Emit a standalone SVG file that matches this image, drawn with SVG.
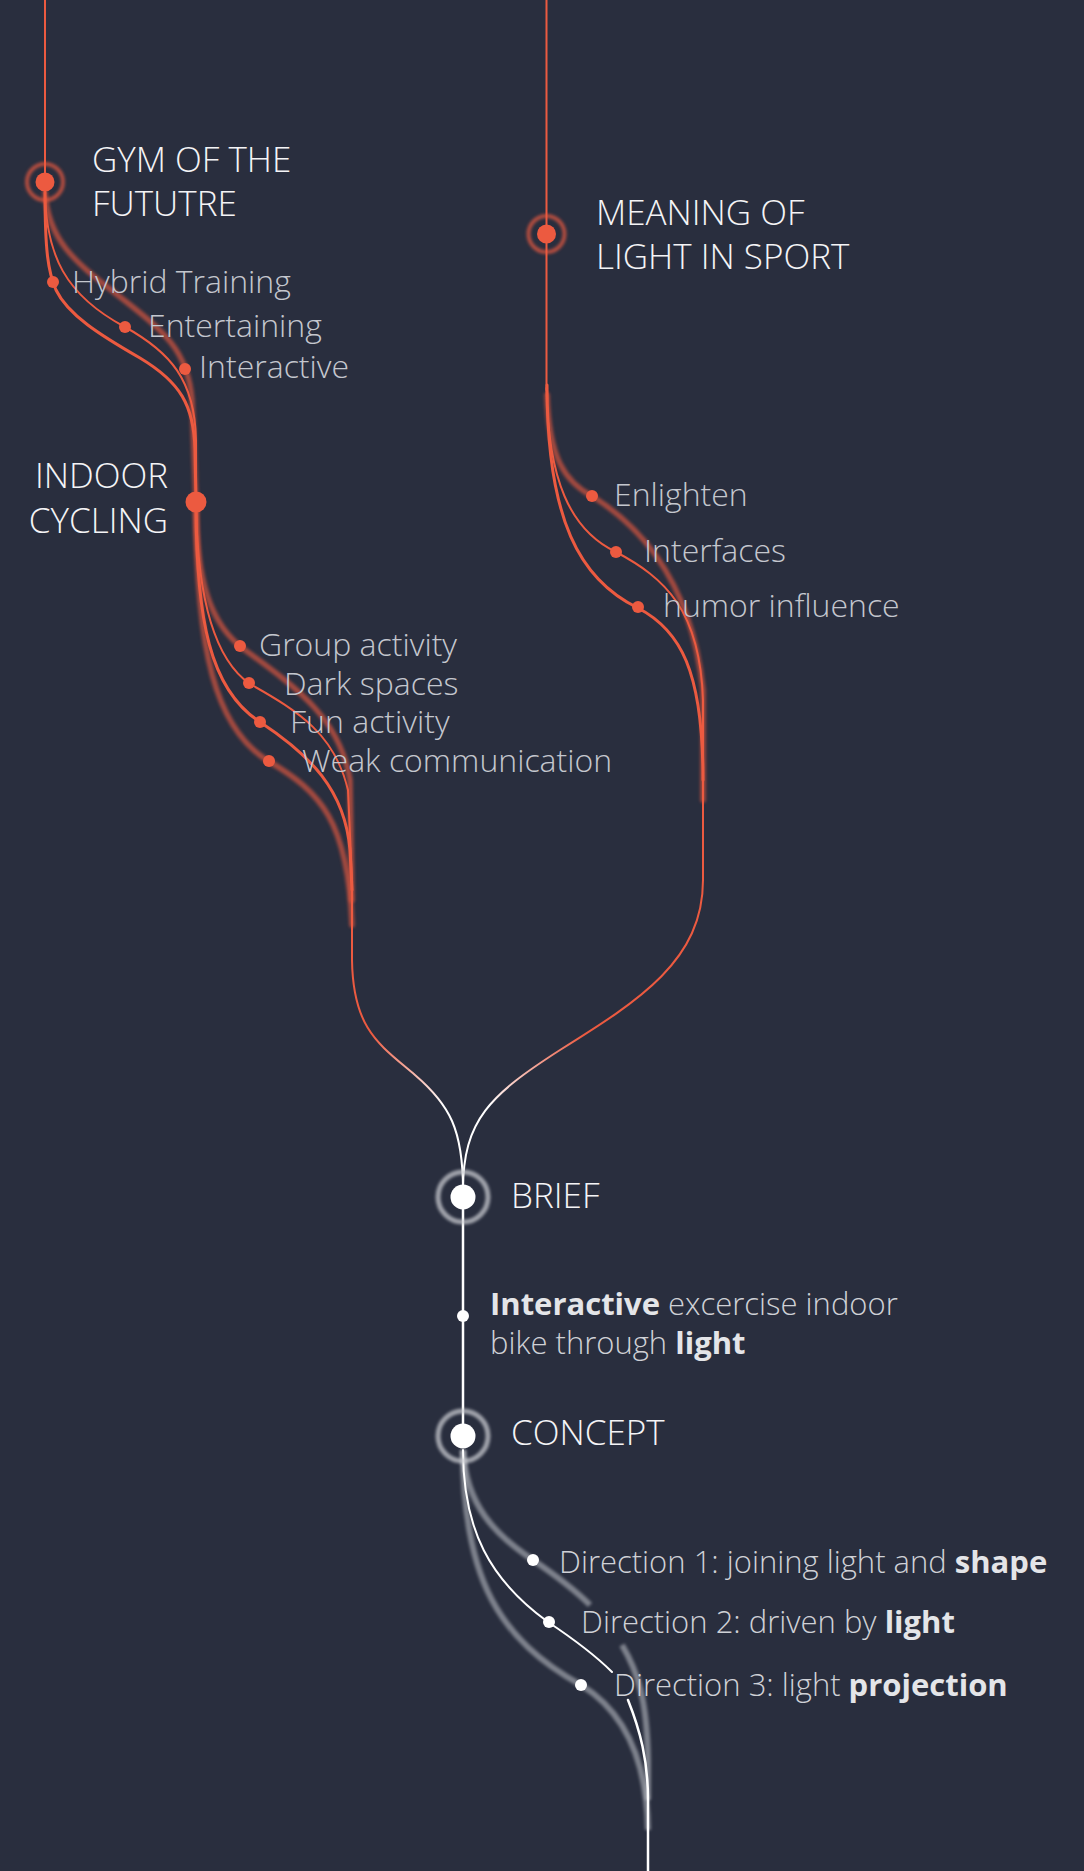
<svg xmlns="http://www.w3.org/2000/svg" width="1084" height="1871" viewBox="0 0 1084 1871">
<defs>
<style>
.o{fill:none;stroke:#ec5a40;stroke-linecap:round}
.thin{stroke-width:2}
.med{stroke-width:3}
.glow{stroke-width:5.5;opacity:0.62}
.w{fill:none;stroke:#ffffff;stroke-linecap:round}
.g{fill:none;stroke:#c3c6cc;stroke-width:6;opacity:0.55;stroke-linecap:butt}
.od{fill:#ec5a40}
.wd{fill:#ffffff}
.head{font-family:"Open Sans","Liberation Sans",sans-serif;font-size:35px;font-weight:300;fill:#f4f4f6}
.sub{font-family:"Open Sans","Liberation Sans",sans-serif;font-size:32px;font-weight:300;fill:#c4c7ce}
.desc{font-family:"Open Sans","Liberation Sans",sans-serif;font-size:31px;font-weight:300;fill:#cfd1d6}
.b{font-weight:700;fill:#e4e5e8}
</style>
<filter id="blur" filterUnits="userSpaceOnUse" x="0" y="0" width="1084" height="1871"><feGaussianBlur stdDeviation="1.6"/></filter>
<filter id="soft" filterUnits="userSpaceOnUse" x="0" y="0" width="1084" height="1871"><feGaussianBlur stdDeviation="0.5"/></filter>
<linearGradient id="toWhite" gradientUnits="userSpaceOnUse" x1="0" y1="1035" x2="0" y2="1105">
<stop offset="0" stop-color="#ec5a40"/><stop offset="1" stop-color="#ffffff"/>
</linearGradient>
</defs>
<rect width="1084" height="1871" fill="#292e3e"/>
<g id="connectors">
<path class="o thin" d="M45,0 V192"/>
<path class="o glow" filter="url(#blur)" d="M45,192 C48,240 75,262 115,293 C165,332 188,350 192,400 L196,502"/>
<path class="o med" filter="url(#soft)" d="M45,192 C45,250 48,272 56,290 C68,315 100,335 140,358 C180,382 194,405 195,450 L196,502"/>
<path class="o thin" d="M45,192 C46,255 65,295 125,327 C170,352 195,380 196,440 V502"/>
<path class="o glow" filter="url(#blur)" d="M196,502 C196,580 210,625 245,650 C300,690 340,720 350,780 L352,900"/>
<path class="o glow" filter="url(#blur)" d="M196,502 C196,650 215,730 270,762 C320,792 348,820 352,925"/>
<path class="o med" filter="url(#soft)" d="M196,502 C196,620 210,690 260,722 C310,755 345,790 350,850 L352,890"/>
<path class="o thin" d="M196,502 C197,600 215,660 250,684 C300,712 335,735 348,790 L352,880"/>
<path fill="none" stroke="url(#toWhite)" stroke-width="2" d="M352,880 V960 C353,1030 380,1045 415,1075 C450,1105 463,1130 463,1190"/>
<path class="o thin" d="M546.5,0 V390"/>
<path class="o glow" filter="url(#blur)" d="M547,395 C549,458 565,482 592,496 C630,520 690,570 703,690 V800"/>
<path class="o med" filter="url(#soft)" d="M547,385 C547,520 580,580 638,608 C680,630 703,670 703,780"/>
<path class="o thin" d="M546.5,388 C548,480 570,530 616,552 C665,578 700,610 703,700 V880"/>
<path fill="none" stroke="url(#toWhite)" stroke-width="2" d="M703,880 C703,960 640,1000 560,1050 C490,1095 463,1120 463,1190"/>
<path class="w" stroke-width="2.5" d="M463,1196 V1436"/>
<path class="g" filter="url(#blur)" d="M463,1450 C466,1505 495,1535 533,1560 C555,1575 575,1590 590,1605"/>
<path class="g" filter="url(#blur)" d="M622,1645 C638,1672 647,1700 648,1760 V1800"/>
<path class="g" filter="url(#blur)" d="M463,1450 C463,1580 500,1640 581,1685 C625,1712 647,1760 648,1830"/>
<path class="w" stroke-width="2" d="M463,1450 C463,1530 490,1580 548,1622 C575,1640 595,1655 612,1672"/>
<path class="w" stroke-width="2.5" d="M628,1700 C640,1730 648,1760 648,1800 V1871"/>
</g>
<g id="node-gym">
<circle cx="45" cy="182" r="18" fill="none" stroke="#ec5a40" stroke-width="4" opacity="0.7" filter="url(#blur)"/>
<circle class="od" cx="45" cy="182" r="9.5"/>
<text class="head" x="92" y="172">GYM OF THE</text>
<text class="head" x="92" y="216">FUTUTRE</text>
</g>
<g id="item-hybrid"><circle class="od" cx="53" cy="282" r="6"/><text class="sub" x="72" y="293">Hybrid Training</text></g>
<g id="item-entertaining"><circle class="od" cx="125" cy="327" r="6"/><text class="sub" x="148" y="337">Entertaining</text></g>
<g id="item-interactive"><circle class="od" cx="185" cy="369" r="6"/><text class="sub" x="199" y="378">Interactive</text></g>
<g id="node-indoor">
<circle class="od" cx="196" cy="502" r="10.5"/>
<text class="head" x="168" y="488" text-anchor="end">INDOOR</text>
<text class="head" x="168" y="533" text-anchor="end">CYCLING</text>
</g>
<g id="item-group"><circle class="od" cx="240" cy="646" r="6"/><text class="sub" x="259" y="656">Group activity</text></g>
<g id="item-dark"><circle class="od" cx="249" cy="683" r="6"/><text class="sub" x="284" y="695">Dark spaces</text></g>
<g id="item-fun"><circle class="od" cx="260" cy="722" r="6"/><text class="sub" x="290" y="733">Fun activity</text></g>
<g id="item-weak"><circle class="od" cx="269" cy="761" r="6"/><text class="sub" x="302" y="772">Weak communication</text></g>
<g id="node-meaning">
<circle cx="546.5" cy="234" r="18" fill="none" stroke="#ec5a40" stroke-width="4" opacity="0.7" filter="url(#blur)"/>
<circle class="od" cx="546.5" cy="234" r="9.5"/>
<text class="head" x="596" y="225">MEANING OF</text>
<text class="head" x="596" y="269">LIGHT IN SPORT</text>
</g>
<g id="item-enlighten"><circle class="od" cx="592" cy="496" r="6"/><text class="sub" x="614" y="506">Enlighten</text></g>
<g id="item-interfaces"><circle class="od" cx="616" cy="552" r="6"/><text class="sub" x="644" y="562">Interfaces</text></g>
<g id="item-humor"><circle class="od" cx="638" cy="607" r="6"/><text class="sub" x="663" y="617">humor influence</text></g>
<g id="node-brief">
<circle cx="463" cy="1197" r="25" fill="none" stroke="#c9cbd0" stroke-width="5" opacity="0.75" filter="url(#blur)"/>
<circle class="wd" cx="463" cy="1197" r="12.5"/>
<text class="head" x="511" y="1208">BRIEF</text>
</g>
<g id="item-brief-desc">
<circle class="wd" cx="463" cy="1316" r="6"/>
<text class="desc" x="490" y="1315"><tspan class="b">Interactive</tspan> excercise indoor</text>
<text class="desc" x="490" y="1354">bike through <tspan class="b">light</tspan></text>
</g>
<g id="node-concept">
<circle cx="463" cy="1436" r="25" fill="none" stroke="#c9cbd0" stroke-width="5" opacity="0.75" filter="url(#blur)"/>
<circle class="wd" cx="463" cy="1436" r="12.5"/>
<text class="head" x="511" y="1445">CONCEPT</text>
</g>
<g id="item-dir1"><circle class="wd" cx="533" cy="1560" r="6"/><text class="desc" x="559" y="1573">Direction 1: joining light and <tspan class="b">shape</tspan></text></g>
<g id="item-dir2"><circle class="wd" cx="549" cy="1622" r="6"/><text class="desc" x="581" y="1633">Direction 2: driven by <tspan class="b">light</tspan></text></g>
<g id="item-dir3"><circle class="wd" cx="581" cy="1685" r="6"/><text class="desc" x="614" y="1696">Direction 3: light <tspan class="b">projection</tspan></text></g>
</svg>
